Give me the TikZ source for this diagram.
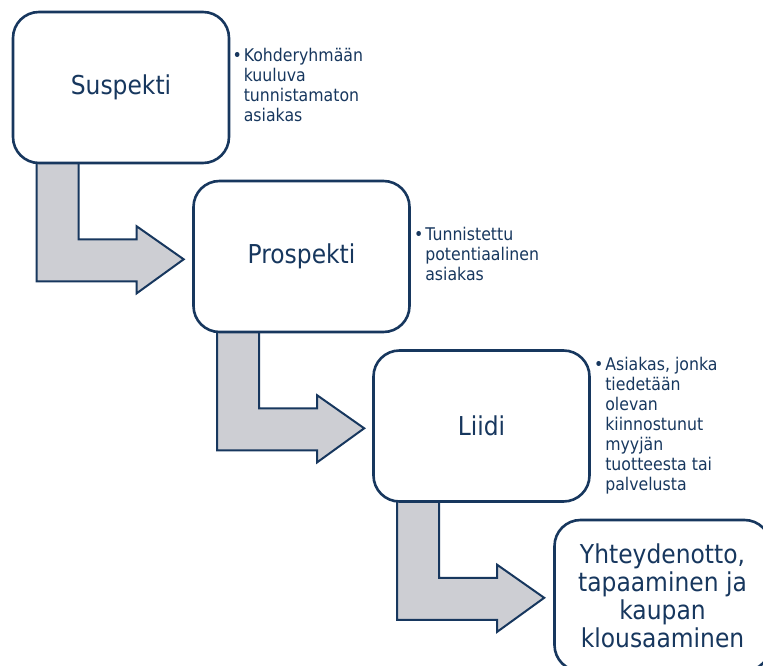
\documentclass[tikz,border=0pt]{standalone}
\usepackage{fontspec}
\setmainfont[FakeStretch=0.9]{DejaVu Sans}
\usetikzlibrary{positioning,calc,backgrounds}
\definecolor{navy}{RGB}{23,55,94}
\definecolor{arrowgray}{RGB}{205,206,211}

\tikzset{
  stagebox/.style={draw=navy, line width=2.6pt, fill=white, rounded corners=26pt,
    minimum width=216pt, minimum height=151pt, inner sep=0pt, text=navy,
    font=\fontsize{26}{28}\selectfont, align=center},
  notetext/.style={anchor=west, text=navy, inner sep=0pt,
    font=\fontsize{17.5}{20}\selectfont},
  flowarrow/.style={draw=navy, line width=2pt, fill=arrowgray, line join=miter},
}

\begin{document}
\begin{tikzpicture}[x=1pt,y=-1pt]
    \clip (0,0) rectangle (763,666);

    % stages
    \node[stagebox] (suspekti) at (121,87.5) {Suspekti};
    \node[stagebox] (prospekti) at (301.5,256.5) {Prospekti};
    \node[stagebox] (liidi) at (481.5,426) {Liidi};
    \node[stagebox] (kauppa) at (662.5,595.5) {Yhteydenotto,\\tapaaminen ja\\kaupan\\klousaaminen};

    % descriptions
    \node[notetext, right=2pt of suspekti] (suspektinote) {\begin{tabular}{@{}l@{\hspace{2pt}}l@{}}
        •&Kohderyhmään\\&kuuluva\\&tunnistamaton\\&asiakas\end{tabular}};
    \node[notetext, right=3pt of prospekti] (prospektinote) {\begin{tabular}{@{}l@{\hspace{2pt}}l@{}}
        •&Tunnistettu\\&potentiaalinen\\&asiakas\end{tabular}};
    \node[notetext, right=3pt of liidi] (liidinote) {\begin{tabular}{@{}l@{\hspace{2pt}}l@{}}
        •&Asiakas, jonka\\&tiedetään\\&olevan\\&kiinnostunut\\&myyjän\\&tuotteesta tai\\&palvelusta\end{tabular}};

    % bent arrows
    \begin{scope}[on background layer]
    \foreach \n in {suspekti,prospekti,liidi}
        \draw[flowarrow] ($(\n.south west)+(25,-10)$) -- ($(\n.south west)+(25,117)$)
            -- ($(\n.south west)+(125,117)$) -- ($(\n.south west)+(125,129)$)
            -- ($(\n.south west)+(172,95)$) -- ($(\n.south west)+(125,62)$)
            -- ($(\n.south west)+(125,75)$) -- ($(\n.south west)+(67,75)$)
            -- ($(\n.south west)+(67,-10)$) -- cycle;
    \end{scope}
\end{tikzpicture}
\end{document}
